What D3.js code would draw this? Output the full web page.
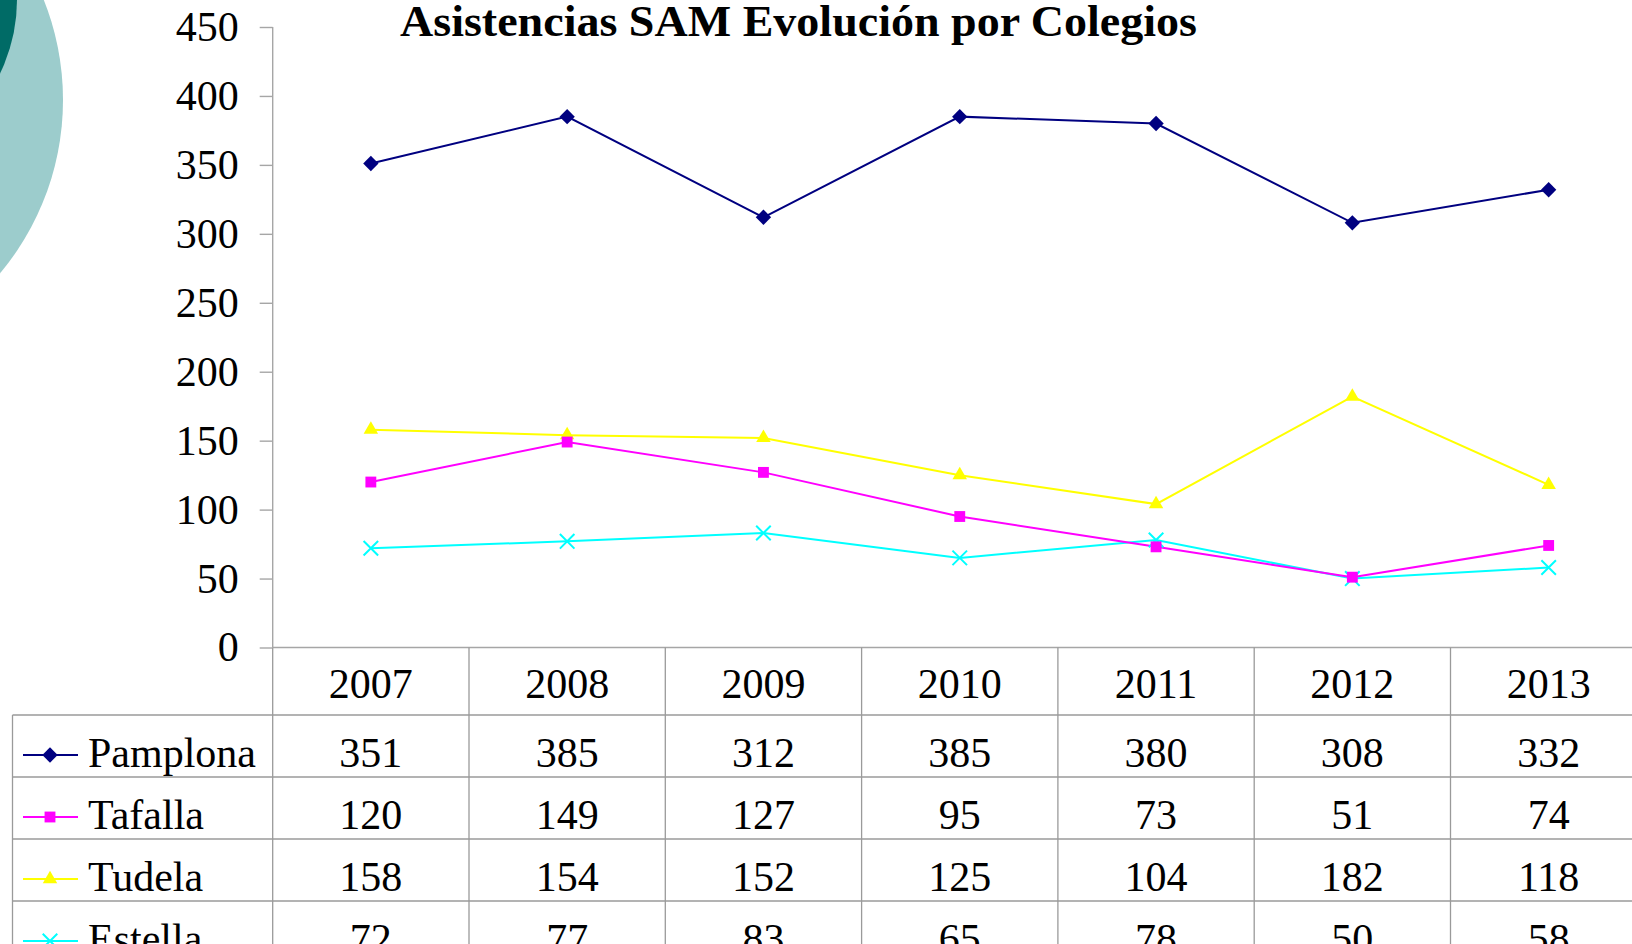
<!DOCTYPE html>
<html>
<head>
<meta charset="utf-8">
<script src="https://cdn.jsdelivr.net/npm/d3@7"></script>
<style>
  html, body { margin: 0; padding: 0; background: #fff; overflow: hidden; }
  svg { display: block; }
</style>
</head>
<body>
<div id="chart"></div>
<script>
const years = ["2007", "2008", "2009", "2010", "2011", "2012", "2013"];
const schools = ["Pamplona", "Tafalla", "Tudela", "Estella"];
const pamplona = [351, 385, 312, 385, 380, 308, 332];
const tafalla = [120, 149, 127, 95, 73, 51, 74];
const tudela = [158, 154, 152, 125, 104, 182, 118];
const estella = [72, 77, 83, 65, 78, 50, 58];
const yTicks = [0, 50, 100, 150, 200, 250, 300, 350, 400, 450];
const title = "Asistencias SAM Evolución por Colegios";

const W = 1632, H = 944;
const fontFam = "'Liberation Serif', 'Times New Roman', serif";

const series = [
    {name: schools[0], values: pamplona, color: "#000080", symbol: d3.symbolDiamond2, size: 150},
    {name: schools[1], values: tafalla, color: "#FF00FF", symbol: d3.symbolSquare2, size: 150},
    {name: schools[2], values: tudela, color: "#FFFF00", symbol: d3.symbolTriangle2, size: 150},
    {name: schools[3], values: estella, color: "#00FFFF", symbol: d3.symbolX, size: 140}
];

const svg = d3.select("#chart").append("svg")
    .attr("width", W)
    .attr("height", H);

// decoracion de la esquina
svg.append("circle").attr("cx", -207).attr("cy", 100).attr("r", 270).attr("fill", "#9CCCCC");
svg.append("circle").attr("cx", -150).attr("cy", 0).attr("r", 167).attr("fill", "#006B66");

const plotLeft = 272.7, plotTop = 27, plotBottom = 647.5;
const bandW = 196.3;

const x = d3.scaleBand()
    .domain(years)
    .range([plotLeft, plotLeft + bandW * years.length])
    .padding(0);

const y = d3.scaleLinear()
    .domain([0, 450])
    .range([plotBottom, plotTop]);

// eje Y
const yAxis = svg.append("g")
    .attr("transform", `translate(${plotLeft},0)`)
    .call(d3.axisLeft(y).tickValues(yTicks).tickSize(13).tickPadding(21));
yAxis.select(".domain").attr("stroke", "#a6a6a6").attr("stroke-width", 1.4)
    .attr("d", `M0,${plotTop}V${plotBottom}`);
yAxis.selectAll(".tick line").attr("stroke", "#a6a6a6").attr("stroke-width", 1.4);
yAxis.selectAll(".tick text")
    .attr("font-family", fontFam)
    .attr("font-size", 42)
    .attr("fill", "#000");

// eje X (linea base)
svg.append("line")
    .attr("x1", plotLeft).attr("x2", W)
    .attr("y1", plotBottom).attr("y2", plotBottom)
    .attr("stroke", "#a6a6a6").attr("stroke-width", 1.4);

// tabla de datos
const headerBottom = 715;
const rowH = 62;
const tableLeft = 12.5;
const gridColor = "#9a9a9a";

const table = svg.append("g");

// lineas verticales
table.selectAll(".vline")
    .data(years.concat(["end"]))
    .enter()
    .append("line")
    .attr("class", "vline")
    .attr("x1", (d, i) => plotLeft + i * bandW)
    .attr("x2", (d, i) => plotLeft + i * bandW)
    .attr("y1", plotBottom)
    .attr("y2", H)
    .attr("stroke", gridColor).attr("stroke-width", 1.3);

table.append("line")
    .attr("x1", tableLeft).attr("x2", tableLeft)
    .attr("y1", headerBottom).attr("y2", H)
    .attr("stroke", gridColor).attr("stroke-width", 1.3);

// lineas horizontales
table.selectAll(".hline")
    .data(d3.range(series.length + 1))
    .enter()
    .append("line")
    .attr("class", "hline")
    .attr("x1", tableLeft).attr("x2", W)
    .attr("y1", i => headerBottom + i * rowH)
    .attr("y2", i => headerBottom + i * rowH)
    .attr("stroke", gridColor).attr("stroke-width", 1.3);

// cabecera de años
table.selectAll(".year")
    .data(years)
    .enter()
    .append("text")
    .attr("class", "year")
    .attr("x", d => x(d) + x.bandwidth() / 2)
    .attr("y", plotBottom + 50)
    .attr("text-anchor", "middle")
    .attr("font-family", fontFam)
    .attr("font-size", 42)
    .text(d => d);

// filas
series.forEach((s, i) => {
    const top = headerBottom + i * rowH;
    const row = table.append("g");

    row.append("line")
        .attr("x1", 23).attr("x2", 78)
        .attr("y1", top + 40).attr("y2", top + 40)
        .attr("stroke", s.color).attr("stroke-width", 2);
    row.append("path")
        .attr("transform", `translate(50,${top + 40})`)
        .attr("d", d3.symbol().type(s.symbol).size(s.size)())
        .attr("fill", s.symbol === d3.symbolX ? "none" : s.color)
        .attr("stroke", s.symbol === d3.symbolX ? s.color : "none")
        .attr("stroke-width", 2);

    row.append("text")
        .attr("x", 88)
        .attr("y", top + 52)
        .attr("font-family", fontFam)
        .attr("font-size", 42)
        .text(s.name);

    row.selectAll(".val")
        .data(s.values)
        .enter()
        .append("text")
        .attr("class", "val")
        .attr("x", (d, j) => x(years[j]) + x.bandwidth() / 2)
        .attr("y", top + 52)
        .attr("text-anchor", "middle")
        .attr("font-family", fontFam)
        .attr("font-size", 42)
        .text(d => d);
});

// lineas de la grafica
const line = d3.line()
    .x((d, j) => x(years[j]) + x.bandwidth() / 2)
    .y(d => y(d));

series.slice().reverse().forEach(s => {
    svg.append("path")
        .datum(s.values)
        .attr("d", line)
        .attr("fill", "none")
        .attr("stroke", s.color)
        .attr("stroke-width", 2);
});

series.slice().reverse().forEach(s => {
    svg.selectAll(null)
        .data(s.values)
        .enter()
        .append("path")
        .attr("transform", (d, j) => `translate(${x(years[j]) + x.bandwidth() / 2},${y(d)})`)
        .attr("d", d3.symbol().type(s.symbol).size(s.size)())
        .attr("fill", s.symbol === d3.symbolX ? "none" : s.color)
        .attr("stroke", s.symbol === d3.symbolX ? s.color : "none")
        .attr("stroke-width", 2);
});

// titulo
svg.append("text")
    .attr("x", 400)
    .attr("y", 35.5)
    .attr("font-family", fontFam)
    .attr("font-weight", "bold")
    .attr("font-size", 45)
    .attr("textLength", 797)
    .attr("lengthAdjust", "spacingAndGlyphs")
    .text(title);
</script>
</body>
</html>
